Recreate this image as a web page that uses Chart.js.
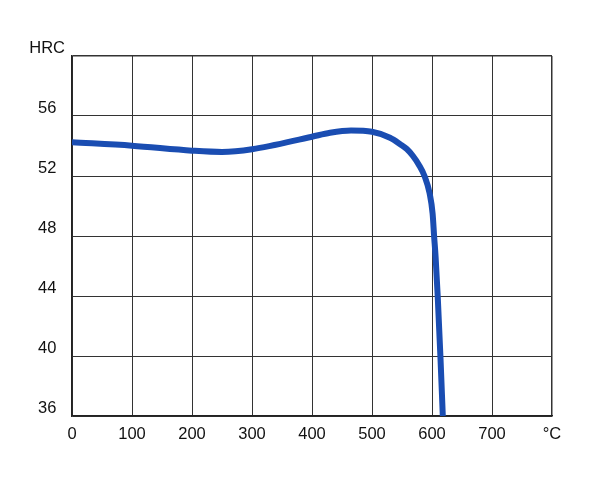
<!DOCTYPE html>
<html>
<head>
<meta charset="utf-8">
<script src="https://cdn.jsdelivr.net/npm/chart.js@4"></script>
<style>
  html, body { margin: 0; padding: 0; background: #fff; }
  #wrap { width: 600px; height: 481px; }
</style>
</head>
<body>
<div id="wrap"><canvas id="chart" width="600" height="481"></canvas></div>
<script>
// tempering temperature (°C) vs hardness (HRC)
const temps    = [0, 100, 200, 250, 300, 400, 430, 465, 500, 530, 547, 558, 568, 578, 588, 596, 601, 603.5, 606, 609.5, 614, 618];
const hardness = [54.25, 54.02, 53.69, 53.6, 53.78, 54.62, 54.88, 55.03, 54.95, 54.55, 54.12, 53.8, 53.35, 52.75, 51.95, 50.85, 49.5, 48, 46.6, 44, 40, 36];

const xTicks = [0, 100, 200, 300, 400, 500, 600, 700, 800];
const xLabels = ["0", "100", "200", "300", "400", "500", "600", "700", "°C"];
const yTicks = [36, 40, 44, 48, 52, 56, 60];
const yLabels = ["36", "40", "44", "48", "52", "56", "HRC"];

const points = temps.map((t, i) => ({ x: t, y: hardness[i] }));

const font = { family: "'Liberation Sans', Arial, sans-serif", size: 16.5 };

new Chart(document.getElementById("chart"), {
  type: "line",
  data: {
    datasets: [{
      data: points,
      borderColor: "#1a4db2",
      borderWidth: 6,
      pointRadius: 0,
      fill: false,
      cubicInterpolationMode: "monotone"
    }]
  },
  options: {
    responsive: false,
    animation: false,
    layout: { padding: { left: 0, right: 48, top: 56, bottom: 0 } },
    plugins: { legend: { display: false }, tooltip: { enabled: false } },
    scales: {
      x: {
        type: "linear",
        min: 0,
        max: 800,
        afterBuildTicks: s => { s.ticks = xTicks.map(v => ({ value: v })); },
        afterFit: s => { s.height = 65; },
        ticks: {
          color: "#111",
          font: font,
          padding: 9,
          maxRotation: 0,
          callback: v => xLabels[xTicks.indexOf(v)]
        },
        grid: {
          color: "#333",
          lineWidth: c => (c.tick && c.tick.value === 800 ? 1.5 : 1),
          drawTicks: false
        },
        border: { color: "#222", width: 1.5 }
      },
      y: {
        min: 36,
        max: 60,
        afterBuildTicks: s => { s.ticks = yTicks.map(v => ({ value: v })); },
        afterFit: s => { s.width = 72; },
        ticks: {
          color: "#111",
          font: font,
          padding: 7,
          crossAlign: "center",
          labelOffset: -8,
          callback: v => yLabels[yTicks.indexOf(v)]
        },
        grid: {
          color: "#333",
          lineWidth: c => (c.tick && c.tick.value === 60 ? 1.5 : 1),
          drawTicks: false
        },
        border: { color: "#222", width: 1.5 }
      }
    }
  }
});
</script>
</body>
</html>
